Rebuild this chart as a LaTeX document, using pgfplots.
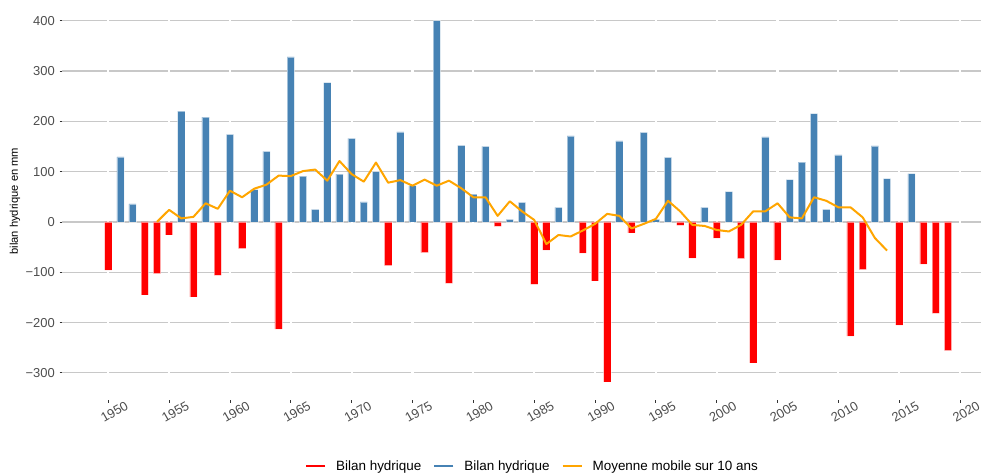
\documentclass[border=0pt]{standalone}
\usepackage{fontspec}
\setmainfont{Liberation Sans}
\usepackage{pgfplots}
\pgfplotsset{compat=1.18}
\definecolor{barred}{RGB}{255,0,0}
\definecolor{barblue}{RGB}{70,130,180}
\definecolor{maorange}{RGB}{255,165,0}
\definecolor{gridgray}{RGB}{200,200,200}
\definecolor{ticktext}{RGB}{77,77,77}
\definecolor{tickmark}{RGB}{51,51,51}
\begin{document}
\begin{tikzpicture}
\useasboundingbox (-62.5bp,-76.3bp) rectangle (918.5bp,399.7bp);
\begin{axis}[
  scale only axis, width=918.5bp, height=397.1bp,
  xmin=1946.24, xmax=2021.72, ymin=-353.3, ymax=435.8,
  axis line style={draw=none},
  xtick={1950,1955,1960,1965,1970,1975,1980,1985,1990,1995,2000,2005,2010,2015,2020},
  xticklabels={1950,1955,1960,1965,1970,1975,1980,1985,1990,1995,2000,2005,2010,2015,2020},
  ytick={-300,-200,-100,0,100,200,300,400},
  yticklabels={−300,−200,−100,0,100,200,300,400},
  tick pos=left,
  tick align=outside, major tick length=3bp,
  tick style={tickmark, line width=0.8bp},
  ymajorgrids, grid style={gridgray, line width=1.2bp},
  ticklabel style={font=\fontsize{13}{15}\selectfont, text=ticktext},
  xticklabel style={rotate=30, anchor=center, inner sep=0pt, xshift=0.8bp, yshift=-11bp},
  yticklabel style={anchor=east, inner sep=0pt, xshift=-4.5bp},
  ylabel={bilan hydrique en mm},
  ylabel style={at={(axis description cs:-0.0517,0.5)}, anchor=center, font=\fontsize{11.2}{13}\selectfont},
  legend style={at={(axis description cs:0.5117,-0.167)}, anchor=center, draw=none, fill=none,
    font=\fontsize{13.5}{15}\selectfont, legend columns=3,
    /tikz/every odd column/.append style={column sep=8bp},
    /tikz/every even column/.append style={column sep=10bp}},
  legend cell align=left,
]
\pgfplotsinvokeforeach{1950,1955,1960,1965,1970,1975,1980,1985,1990,1995,2000,2005,2010,2015,2020}{
  \draw[white, line width=2.2bp] (axis cs:#1,-353.3) -- (axis cs:#1,435.8);
}
\addplot[ybar, bar width=0.6, bar shift=0pt, fill=barred, draw=white, draw opacity=0.5, line width=0.5bp,
  legend image code/.code={\draw[barred, draw opacity=1, line width=2bp] (0bp,0bp) -- (19bp,0bp);}]
  coordinates {
  (1950,-96) (1953,-145) (1954,-103) (1955,-26) (1957,-149) (1959,-106) (1961,-53)
  (1964,-213) (1973,-87) (1976,-61) (1978,-122) (1982,-9) (1985,-124) (1986,-56)
  (1989,-62) (1990,-117) (1991,-318) (1993,-22) (1997,-7) (1998,-72) (2000,-32)
  (2002,-73) (2003,-280) (2005,-76) (2011,-227) (2012,-95) (2015,-205) (2017,-84)
  (2018,-182) (2019,-256)
  };
\addlegendentry{Bilan hydrique}
\addplot[ybar, bar width=0.6, bar shift=0pt, fill=barblue, draw=white, draw opacity=0.5, line width=0.5bp,
  legend image code/.code={\draw[barblue, draw opacity=1, line width=2bp] (0bp,0bp) -- (19bp,0bp);}]
  coordinates {
  (1951,129) (1952,36) (1956,220) (1958,208) (1960,174) (1962,64) (1963,140)
  (1965,328) (1966,91) (1967,25) (1968,277) (1969,95) (1970,166) (1971,40)
  (1972,100) (1974,179) (1975,72) (1977,400) (1979,152) (1980,55) (1981,150)
  (1983,5) (1984,39) (1987,29) (1988,171) (1992,161) (1994,178) (1995,5)
  (1996,128) (1999,29) (2001,60) (2004,169) (2006,84) (2007,119) (2008,215)
  (2009,25) (2010,133) (2013,151) (2014,86) (2016,96)
  };
\addlegendentry{Bilan hydrique}
\addplot[maorange, line width=2bp, line join=round, mark=none,
  legend image code/.code={\draw[maorange, line width=2bp] (0bp,0bp) -- (19bp,0bp);}]
  coordinates {
  (1954,0) (1955,24) (1956,7) (1957,10) (1958,37) (1959,26) (1960,62) (1961,49)
  (1962,66) (1963,74) (1964,92) (1965,91) (1966,101) (1967,104) (1968,82) (1969,121)
  (1970,95) (1971,80) (1972,118) (1973,78) (1974,83) (1975,72) (1976,84) (1977,72)
  (1978,82) (1979,67) (1980,49) (1981,49) (1982,12) (1983,41) (1984,21) (1985,4)
  (1986,-44) (1987,-26) (1988,-29) (1989,-17) (1990,-4) (1991,16) (1992,12) (1993,-13)
  (1994,-4) (1995,6) (1996,42) (1997,21) (1998,-6) (1999,-8) (2000,-16) (2001,-19)
  (2002,-6) (2003,21) (2004,21) (2005,37) (2006,9) (2007,7) (2008,49) (2009,42)
  (2010,29) (2011,29) (2012,9) (2013,-32) (2014,-57)
  };
\addlegendentry{Moyenne mobile sur 10 ans}
\end{axis}
\end{tikzpicture}
\end{document}
